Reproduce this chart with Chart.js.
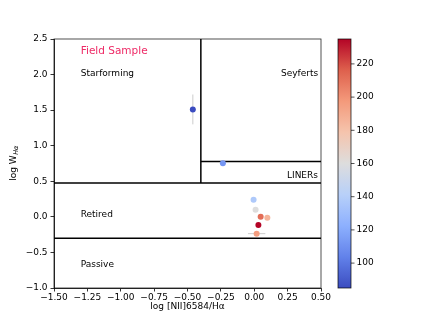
<!DOCTYPE html>
<html>
<head>
<meta charset="utf-8">
<script src="https://cdn.jsdelivr.net/npm/chart.js@4/dist/chart.umd.min.js"></script>
<style>
html,body{margin:0;padding:0;background:#fff;}
canvas{display:block;}
</style>
</head>
<body>
<canvas id="c" width="432" height="324"></canvas>
<script>
// ---- data ----
const xVals = [-0.46, -0.235, -0.005, 0.01, 0.048, 0.098, 0.031, 0.018];
const yVals = [1.51, 0.755, 0.24, 0.10, 0.003, -0.011, -0.114, -0.236];
const cVals = [85, 112, 137, 160, 212, 186, 235, 196];
const xErr = [0, 0, 0, 0, 0, 0, 0, 0.065];
const yErr = [0.21, 0, 0, 0, 0, 0, 0, 0];
const cMin = 85, cMax = 235;
const cbTicks = [100, 120, 140, 160, 180, 200, 220];
const xTickStep = 0.25, yTickStep = 0.5;
const xRange = [-1.5, 0.5], yRange = [-1.0, 2.5];
// region boundaries: log W = log10(3), log10(0.5), log10(6); log N2 = -0.4
const wSF = Math.log10(3), wPass = Math.log10(0.5), wSey = Math.log10(6), nSplit = -0.4;
const regionLabels = [
  {text: 'Field Sample', x: -1.3, y: 2.29, color: '#ee2a66', size: 10.5},
  {text: 'Starforming', x: -1.3, y: 1.98, color: '#000', size: 9},
  {text: 'Seyferts', x: 0.2, y: 1.98, color: '#000', size: 9},
  {text: 'LINERs', x: 0.245, y: 0.55, color: '#000', size: 9},
  {text: 'Retired', x: -1.3, y: -0.0, color: '#000', size: 9},
  {text: 'Passive', x: -1.3, y: -0.71, color: '#000', size: 9}
];

const FONT = '"DejaVu Sans", sans-serif';
const anchors = [
  [0.0, [59,76,192]], [0.125,[98,130,234]], [0.25,[141,176,254]], [0.375,[184,208,249]],
  [0.5,[221,221,221]], [0.625,[245,196,173]], [0.75,[244,154,123]], [0.875,[222,96,77]], [1.0,[180,4,38]]
];
function coolwarm(t){
  t = Math.max(0, Math.min(1, t));
  for (let i = 0; i < anchors.length - 1; i++) {
    const [t0, c0] = anchors[i], [t1, c1] = anchors[i+1];
    if (t <= t1) {
      const f = (t - t0) / (t1 - t0);
      const c = c0.map((v, k) => Math.round(v + (c1[k] - v) * f));
      return `rgb(${c[0]},${c[1]},${c[2]})`;
    }
  }
  return 'rgb(180,4,38)';
}
const minus = s => s.replace('-', '\u2212');

const points = xVals.map((x, i) => ({x, y: yVals[i]}));
const pointColors = cVals.map(v => coolwarm((v - cMin) / (cMax - cMin)));

const lineDs = (data) => ({
  type: 'line', data, borderColor: '#000', borderWidth: 1.5, pointRadius: 0,
  showLine: true, fill: false, order: 2
});

const extras = {
  id: 'extras',
  beforeDatasetsDraw(chart) {
    const {ctx, scales: {x, y}} = chart;
    ctx.save();
    ctx.strokeStyle = 'rgba(200,200,200,0.9)';
    ctx.lineWidth = 1;
    xVals.forEach((xv, i) => {
      const px = x.getPixelForValue(xv), py = y.getPixelForValue(yVals[i]);
      if (yErr[i] > 0) {
        ctx.beginPath();
        ctx.moveTo(px, y.getPixelForValue(yVals[i] - yErr[i]));
        ctx.lineTo(px, y.getPixelForValue(yVals[i] + yErr[i]));
        ctx.stroke();
      }
      if (xErr[i] > 0) {
        ctx.beginPath();
        ctx.moveTo(x.getPixelForValue(xv - xErr[i]), py);
        ctx.lineTo(x.getPixelForValue(xv + xErr[i]), py);
        ctx.stroke();
      }
    });
    ctx.restore();
  },
  afterDraw(chart) {
    const {ctx, chartArea: ca, scales: {x, y}} = chart;
    ctx.save();
    // frame
    ctx.strokeStyle = 'rgba(0,0,0,0.85)';
    ctx.lineWidth = 0.8;
    ctx.strokeRect(ca.left, ca.top, ca.right - ca.left, ca.bottom - ca.top);
    // region labels
    ctx.textBaseline = 'alphabetic';
    ctx.textAlign = 'left';
    regionLabels.forEach(l => {
      ctx.fillStyle = l.color;
      ctx.font = `${l.size}px ${FONT}`;
      ctx.fillText(l.text, x.getPixelForValue(l.x), y.getPixelForValue(l.y));
    });
    // x title
    ctx.fillStyle = '#000';
    ctx.font = `9px ${FONT}`;
    ctx.textAlign = 'center';
    ctx.fillText('log [NII]6584/H\u03b1', (ca.left + ca.right) / 2, 308.5);
    // y title
    ctx.save();
    ctx.translate(16, (ca.top + ca.bottom) / 2);
    ctx.rotate(-Math.PI / 2);
    ctx.font = `9px ${FONT}`;
    const main = 'log W';
    ctx.font = `9px ${FONT}`;
    const w1 = ctx.measureText(main).width;
    ctx.font = `italic 6.5px ${FONT}`;
    const w2 = ctx.measureText('H\u03b1').width;
    const start = -(w1 + w2) / 2;
    ctx.textAlign = 'left';
    ctx.font = `9px ${FONT}`;
    ctx.fillText(main, start, 0);
    ctx.font = `italic 6.5px ${FONT}`;
    ctx.fillText('H\u03b1', start + w1 + 0.5, 2);
    ctx.restore();
    // colorbar
    const cbL = ca.right + 17, cbW = 13, cbT = ca.top, cbB = ca.bottom;
    const g = ctx.createLinearGradient(0, cbB, 0, cbT);
    for (let i = 0; i <= 40; i++) g.addColorStop(i / 40, coolwarm(i / 40));
    ctx.fillStyle = g;
    ctx.fillRect(cbL, cbT, cbW, cbB - cbT);
    ctx.strokeStyle = 'rgba(0,0,0,0.85)';
    ctx.lineWidth = 0.8;
    ctx.strokeRect(cbL, cbT, cbW, cbB - cbT);
    ctx.fillStyle = '#000';
    ctx.font = `9px ${FONT}`;
    ctx.textAlign = 'left';
    ctx.textBaseline = 'middle';
    cbTicks.forEach(v => {
      const py = cbB - (v - cMin) / (cMax - cMin) * (cbB - cbT);
      ctx.beginPath();
      ctx.moveTo(cbL + cbW, py);
      ctx.lineTo(cbL + cbW + 3.5, py);
      ctx.stroke();
      ctx.fillText(String(v), cbL + cbW + 5.5, py);
    });
    ctx.restore();
  }
};

new Chart(document.getElementById('c'), {
  type: 'scatter',
  data: {
    datasets: [
      {data: points, backgroundColor: pointColors, pointBackgroundColor: pointColors,
       pointBorderWidth: 0, pointRadius: 3, pointHoverRadius: 3, order: 1},
      lineDs([{x: xRange[0], y: wSF}, {x: xRange[1], y: wSF}]),
      lineDs([{x: xRange[0], y: wPass}, {x: xRange[1], y: wPass}]),
      lineDs([{x: nSplit, y: wSF}, {x: nSplit, y: yRange[1]}]),
      lineDs([{x: nSplit, y: wSey}, {x: xRange[1], y: wSey}])
    ]
  },
  options: {
    responsive: false,
    animation: false,
    events: [],
    layout: {padding: {left: 0, right: 111, top: 39, bottom: 0}},
    plugins: {legend: {display: false}, tooltip: {enabled: false}},
    scales: {
      x: {
        type: 'linear', min: xRange[0], max: xRange[1],
        afterFit(s) { s.height = 36; },
        ticks: {stepSize: xTickStep, color: '#000', font: {family: FONT, size: 9}, padding: 1,
                maxRotation: 0, autoSkip: false,
                callback: v => minus(v.toFixed(2))},
        grid: {drawOnChartArea: false, drawTicks: true, tickLength: 3.5, color: '#000', lineWidth: 0.8},
        border: {display: true, color: '#000', width: 0.8}
      },
      y: {
        type: 'linear', min: yRange[0], max: yRange[1],
        afterFit(s) { s.width = 54; },
        ticks: {stepSize: yTickStep, color: '#000', font: {family: FONT, size: 9}, padding: 3,
                autoSkip: false,
                callback: v => minus(v.toFixed(1))},
        grid: {drawOnChartArea: false, drawTicks: true, tickLength: 3.5, color: '#000', lineWidth: 0.8},
        border: {display: true, color: '#000', width: 0.8}
      }
    }
  },
  plugins: [extras]
});
</script>
</body>
</html>
